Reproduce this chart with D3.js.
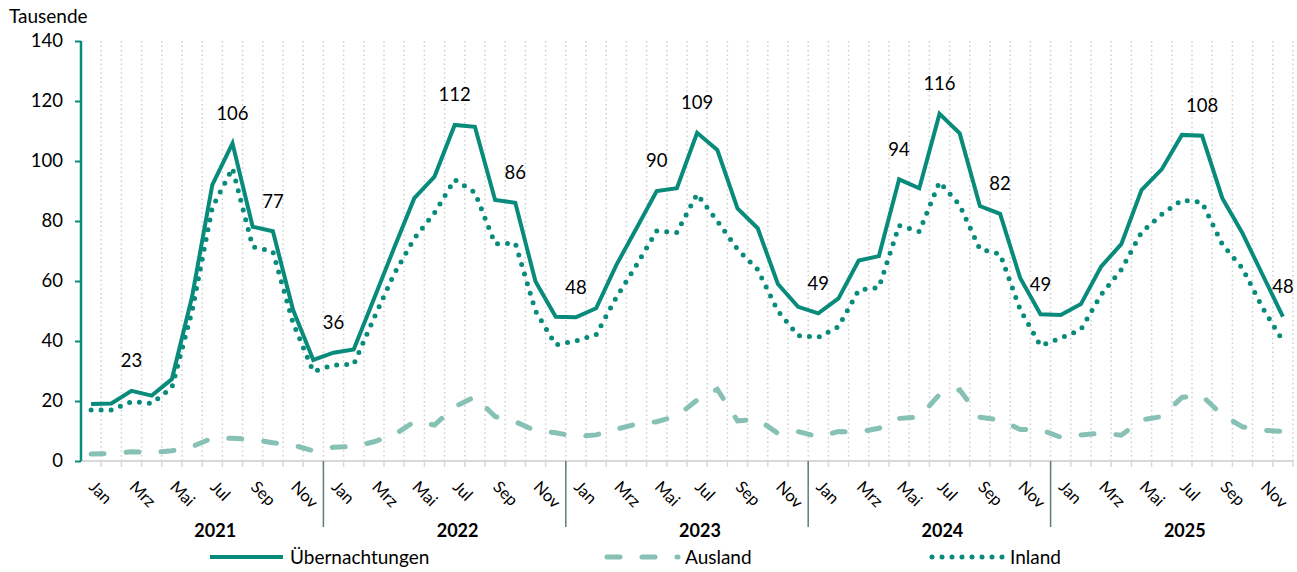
<!DOCTYPE html>
<html>
<head>
<meta charset="utf-8">
<script src="https://cdn.jsdelivr.net/npm/d3@7"></script>
<style>
  body { margin: 0; background: #fff; }
  svg { font-family: Lato, "Open Sans", sans-serif; }
</style>
</head>
<body>
<svg id="chart"></svg>
<script>
'use strict';

// Data (Tausende), Jan 2021 - Dez 2025
var years = ['2021', '2022', '2023', '2024', '2025'];
var months = ['Jan', 'Feb', 'Mrz', 'Apr', 'Mai', 'Jun', 'Jul', 'Aug', 'Sep', 'Okt', 'Nov', 'Dez'];

var uebernachtungen = [
  19.0, 19.2, 23.4, 21.8, 27.3, 54.8, 92.0, 105.9, 78.1, 76.6, 50.3, 33.7,
  36.1, 37.2, 54.0, 71.0, 87.6, 94.8, 112.0, 111.4, 87.0, 86.1, 59.8, 48.1,
  47.9, 50.9, 65.3, 77.6, 90.0, 90.9, 109.4, 103.7, 84.2, 77.6, 59.0, 51.4,
  49.2, 54.2, 66.8, 68.3, 93.9, 90.9, 115.7, 109.2, 85.0, 82.4, 60.9, 48.9,
  48.7, 52.3, 64.8, 72.3, 90.3, 97.2, 108.7, 108.4, 87.6, 75.9, 62.0, 48.1
];
var ausland = [
  2.3, 2.5, 3.1, 2.8, 3.4, 4.8, 7.6, 7.6, 7.2, 6.1, 5.3, 3.4,
  4.6, 4.8, 6.4, 8.7, 13.1, 12.0, 18.1, 21.4, 14.8, 13.1, 10.1, 9.4,
  8.1, 8.7, 10.6, 12.3, 13.1, 15.0, 20.3, 23.9, 13.4, 13.9, 9.2, 9.8,
  8.1, 9.8, 9.7, 10.9, 14.2, 14.6, 22.2, 23.7, 14.6, 13.7, 10.5, 10.5,
  7.9, 8.7, 9.3, 8.6, 13.7, 14.8, 21.2, 21.7, 15.3, 11.4, 10.3, 9.8
];
var inland = [
  17.0, 17.0, 19.8, 19.2, 24.5, 50.0, 84.5, 97.6, 71.4, 69.8, 46.0, 29.8,
  32.0, 32.2, 47.6, 62.3, 74.2, 82.7, 93.8, 89.5, 72.4, 72.6, 50.0, 38.7,
  40.0, 42.1, 54.5, 65.3, 76.7, 76.2, 89.0, 80.0, 70.6, 63.8, 50.0, 41.8,
  41.2, 44.8, 57.0, 57.8, 78.5, 76.5, 93.0, 85.3, 70.6, 69.0, 50.4, 38.4,
  41.0, 43.8, 55.4, 63.8, 76.2, 82.2, 87.0, 86.2, 72.2, 64.2, 51.0, 40.0
];
// months that get a data label on the Übernachtungen line
var labelIdx = [2, 7, 9, 12, 18, 21, 24, 28, 30, 36, 40, 42, 45, 47, 55, 59];
var yTicks = [0, 20, 40, 60, 80, 100, 120, 140];

var teal = '#088b7b';
var lightTeal = '#87c0b4';

// chart area
var canvasWidth = 1297;
var canvasHeight = 572;
var margin = { top: 41, right: 4, bottom: 111, left: 81 };
var width = canvasWidth - margin.left - margin.right;
var height = canvasHeight - margin.top - margin.bottom;

var svg = d3.select('#chart')
  .attr('width', canvasWidth)
  .attr('height', canvasHeight);
var g = svg.append('g')
  .attr('transform', 'translate(' + margin.left + ',' + margin.top + ')');

var idx = d3.range(uebernachtungen.length);
var xScale = d3.scaleBand().domain(idx).range([0, width]).padding(0);
var yScale = d3.scaleLinear().domain([0, 140]).range([height, 0]);
var bw = xScale.bandwidth();
var cx = function(i) { return xScale(i) + bw / 2; };

// dotted vertical gridlines at category boundaries
g.append('g').selectAll('line')
  .data(idx)
  .enter().append('line')
  .attr('x1', d => xScale(d) + bw).attr('x2', d => xScale(d) + bw)
  .attr('y1', 0).attr('y2', height)
  .attr('stroke', '#cfcfcf')
  .attr('stroke-width', 1.5)
  .attr('stroke-dasharray', '1.5,3');

// x axis line + small tick marks at boundaries
g.append('line')
  .attr('x1', 0).attr('x2', width)
  .attr('y1', height).attr('y2', height)
  .attr('stroke', '#d9d9d9').attr('stroke-width', 2);
g.append('g').selectAll('line')
  .data(idx)
  .enter().append('line')
  .attr('x1', d => xScale(d) + bw).attr('x2', d => xScale(d) + bw)
  .attr('y1', height).attr('y2', height + 6)
  .attr('stroke', '#d9d9d9').attr('stroke-width', 1.5);

// month labels (every other month), rotated
g.append('g').selectAll('text')
  .data(idx.filter(i => i % 2 === 0))
  .enter().append('text')
  .attr('transform', d => 'translate(' + (cx(d) - 3) + ',' + (height + 27) + ') rotate(45)')
  .attr('font-size', 16.5)
  .attr('fill', '#000')
  .text(d => months[d % 12]);

// year separators and year labels
g.append('g').selectAll('line')
  .data(years.slice(1))
  .enter().append('line')
  .attr('x1', (d, k) => xScale((k + 1) * 12))
  .attr('x2', (d, k) => xScale((k + 1) * 12))
  .attr('y1', height).attr('y2', height + 66)
  .attr('stroke', '#5d7f79').attr('stroke-width', 1.5);

g.append('g').selectAll('text')
  .data(years)
  .enter().append('text')
  .attr('x', (d, k) => xScale(k * 12) + bw * 6 + 13)
  .attr('y', height + 76)
  .attr('text-anchor', 'middle')
  .attr('font-size', 18)
  .attr('font-weight', 'bold')
  .attr('fill', '#000')
  .text(d => d);

// y axis
var yAxis = g.append('g')
  .call(d3.axisLeft(yScale).tickValues(yTicks).tickSize(6).tickPadding(12));
yAxis.select('.domain').remove();
yAxis.selectAll('.tick line').attr('stroke', teal).attr('stroke-width', 2);
yAxis.selectAll('.tick text').attr('font-size', 18.5).attr('fill', '#000')
  .style('font-family', 'Lato, sans-serif');
g.append('line')
  .attr('x1', 0).attr('x2', 0).attr('y1', 0).attr('y2', height)
  .attr('stroke', teal).attr('stroke-width', 2.5);

svg.append('text')
  .attr('x', 9).attr('y', 23)
  .attr('font-size', 19).attr('fill', '#000')
  .text('Tausende');

// lines
var line = d3.line()
  .x((d, i) => cx(i))
  .y(d => yScale(d));

g.append('path')
  .datum(ausland)
  .attr('d', line)
  .attr('fill', 'none')
  .attr('stroke', lightTeal)
  .attr('stroke-width', 5)
  .attr('stroke-linecap', 'round')
  .attr('stroke-dasharray', '13,22');

g.append('path')
  .datum(inland)
  .attr('d', line)
  .attr('fill', 'none')
  .attr('stroke', teal)
  .attr('stroke-width', 5)
  .attr('stroke-linecap', 'round')
  .attr('stroke-dasharray', '0,10');

g.append('path')
  .datum(uebernachtungen)
  .attr('d', line)
  .attr('fill', 'none')
  .attr('stroke', teal)
  .attr('stroke-width', 4)
  .attr('stroke-linejoin', 'miter');

// data labels
g.append('g').selectAll('text')
  .data(labelIdx)
  .enter().append('text')
  .attr('x', d => cx(d))
  .attr('y', d => yScale(uebernachtungen[d]) - 30)
  .attr('dy', '0.35em')
  .attr('text-anchor', 'middle')
  .attr('font-size', 18.5)
  .attr('fill', '#000')
  .text(d => Math.round(uebernachtungen[d]));

// legend
var legendY = 557;
var legendItems = [
  { name: 'Übernachtungen', x: 210, color: teal, w: 4, dash: null },
  { name: 'Ausland', x: 605, color: lightTeal, w: 5, dash: '13,22' },
  { name: 'Inland', x: 930, color: teal, w: 5, dash: '0,10' }
];
var legend = svg.append('g').selectAll('g')
  .data(legendItems)
  .enter().append('g');
legend.append('line')
  .attr('x1', d => d.x + (d.dash ? 2 : 0)).attr('x2', d => d.x + 73)
  .attr('y1', legendY).attr('y2', legendY)
  .attr('stroke', d => d.color)
  .attr('stroke-width', d => d.w)
  .attr('stroke-linecap', d => d.dash ? 'round' : 'butt')
  .attr('stroke-dasharray', d => d.dash);
legend.append('text')
  .attr('x', d => d.x + 80)
  .attr('y', legendY)
  .attr('dy', '0.35em')
  .attr('font-size', 19)
  .attr('fill', '#000')
  .text(d => d.name);
</script>
</body>
</html>
